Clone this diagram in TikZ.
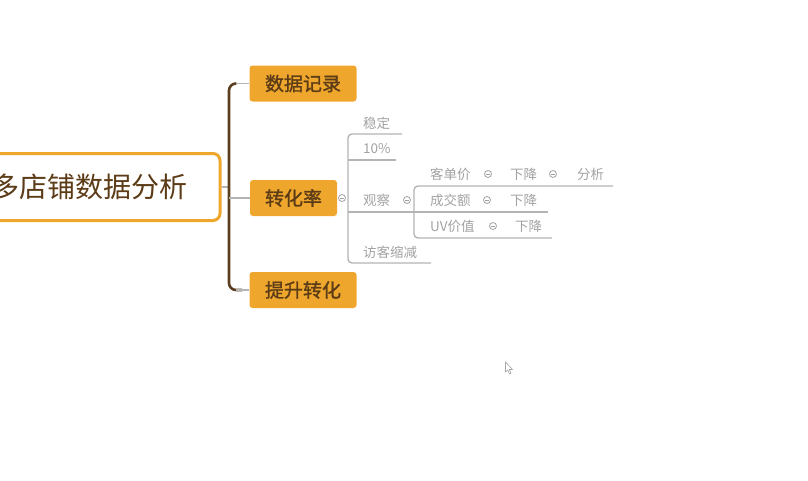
\documentclass[tikz,border=0pt]{standalone}
\usepackage{fontspec}
\setmainfont{Noto Sans CJK SC}
\newfontfamily\cjkbold{Noto Sans CJK SC}[FakeBold=1.4]
\begin{document}
\definecolor{topicfill}{HTML}{EEA72C}
\definecolor{topictext}{HTML}{5C3B17}
\definecolor{trunkcol}{HTML}{5C3D1E}
\definecolor{leaftext}{HTML}{A2A2A2}
\definecolor{leafline}{HTML}{B4B4B4}
\begin{tikzpicture}[x=1pt,y=-1pt,
  rootbox/.style={draw=topicfill, line width=3pt, fill=white, rounded corners=7pt,
    text=topictext, font=\fontsize{28}{30}\selectfont, inner sep=0pt},
  topic/.style={fill=topicfill, rounded corners=3pt, text=topictext,
    font=\cjkbold\fontsize{19}{21}\selectfont, inner sep=0pt, minimum height=36pt},
  trunk/.style={draw=trunkcol, line width=2.6pt, rounded corners=7pt},
  link/.style={draw=leafline, line width=1.2pt},
  sub/.style={draw=leafline, line width=1.4pt, rounded corners=4pt},
  leaf/.style={text=leaftext, font=\fontsize{13.5}{15}\selectfont, inner sep=0pt, anchor=west},
  fold/.style={circle, draw=leaftext, line width=0.8pt, minimum size=7pt, inner sep=0pt,
    path picture={\draw[leaftext, line width=0.7pt] ([xshift=-1.8pt]path picture bounding box.center) -- ([xshift=1.8pt]path picture bounding box.center);}}
]
\useasboundingbox (0,0) rectangle (808,480);

% central topic, running off the left edge
\node[rootbox, minimum width=262pt, minimum height=67pt] (root) at (89,187) {多店铺数据分析};

% main topics
\node[topic, minimum width=107pt] (b1) at (303,83.5) {数据记录};
\node[topic, minimum width=87pt]  (b2) at (293.5,198) {转化率};
\node[topic, minimum width=107pt] (b3) at (303,290) {提升转化};

% trunk and its branches
\coordinate (tk) at (229,187);
\draw[link] (root.east |- tk) -- (tk);
\draw[trunk] (b1.west) ++(-13,0) -- (b1.west -| tk) -- (b3.west -| tk) -- ++(13,0);
\draw[link] (b1.west) ++(-13,0) -- (b1.west);
\draw[link] (b3.west) ++(-13,0) -- (b3.west);
\draw[link] (b2.west -| tk) -- (b2.west);

% fold marker of 转化率
\node[fold] (f0) at (342,198) {};

% second level under 转化率
\node[leaf] (w1) at (363,123) {稳定};
\node[leaf] (w2) at (363,148.5) {10\%};
\node[leaf] (w3) at (363,200) {观察};
\node[leaf] (w4) at (363,252) {访客缩减};
\node[fold] (f3) at (407,200) {};

\coordinate (hub) at (348,198);
\draw[sub] (402,134) -- (hub |- 0,134) -- (hub |- 0,263) -- (431,263);
\draw[sub] (hub |- 0,160) -- (396,160);
\draw[sub] (hub |- 0,212) -- (548,212);

% third level under 观察
\node[leaf] (k1) at (430,174) {客单价};
\node[fold] (k1f) at (488,174) {};
\node[leaf] (k1a) at (510,174) {下降};
\node[fold] (k1g) at (553,174) {};
\node[leaf] (k1b) at (577,174) {分析};

\node[leaf] (k2) at (430,200) {成交额};
\node[fold] (k2f) at (487,200) {};
\node[leaf] (k2a) at (510,200) {下降};

\node[leaf] (k3) at (430,226) {UV价值};
\node[fold] (k3f) at (493,226) {};
\node[leaf] (k3a) at (515,226) {下降};

\coordinate (hub2) at (414,212);
\draw[sub] (613,186) -- (hub2 |- 0,186) -- (hub2 |- 0,238) -- (552,238);

% mouse pointer
\draw[draw=gray!70, fill=white, line width=0.6pt, line join=round]
  (505.5,362) -- (505.5,372) -- (507.8,370) -- (509.5,374) -- (511,373.3) -- (509.3,369.5) -- (512.5,369.5) -- cycle;
\end{tikzpicture}
\end{document}
